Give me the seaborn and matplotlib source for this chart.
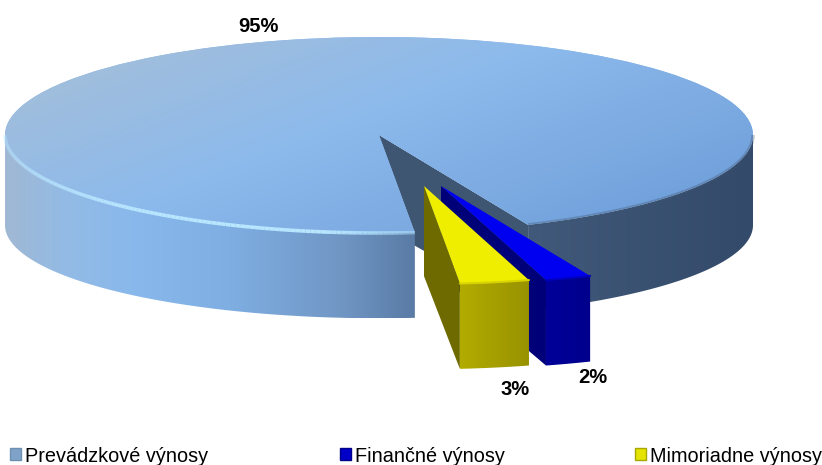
'''Exploded 3D style pie chart of revenue shares'''
import numpy as np
import seaborn as sns
import matplotlib
matplotlib.use('Agg')
import matplotlib.pyplot as plt
from matplotlib.collections import LineCollection
from matplotlib.colors import LinearSegmentedColormap
from matplotlib.patches import Patch, Polygon

categories = ['Prevádzkové výnosy', 'Finančné výnosy', 'Mimoriadne výnosy']
shares = [95, 2, 3]

sns.set_theme(style='white')
plt.rcParams['font.family'] = ['Liberation Sans', 'DejaVu Sans']

top_colors = sns.color_palette(['#8cbaec', '#0000f0', '#f0ee00'])
legend_colors = ['#7fa3c8', '#0000c8', '#e4e400']
legend_edges = ['#6f8fb0', '#00008a', '#a8a800']
legend_x = [0.0122, 0.4136, 0.7725]

# picture layout: pie centre and radii in pixels
W, H = 822, 465
CX, CY, RX, RY = 379, 135, 374, 98
DEPTH = 0.92
BOTTOM_SCALE = 0.95
# how far the two small slices are pulled out, in pixels
BLUE_SHIFT = (62, 51)
YELLOW_SHIFT = (45, 51)

fig = plt.figure(figsize=(W / 100, H / 100), dpi=100)
ax = fig.add_axes([0, 0, 1, 1])

wedges, _ = ax.pie(shares, startangle=275.5, counterclock=False, colors=top_colors,
                   radius=1, wedgeprops={'linewidth': 0, 'edgecolor': 'none'})
ax.set_aspect('auto')


def arc(center, t1, t2, bottom=False):
    '''Points on the top or bottom rim between two angles.'''
    t = np.radians(np.linspace(t1, t2, 120))
    x = center[0] + np.cos(t)
    y = center[1] + np.sin(t)
    if bottom:
        y = center[1] - DEPTH + np.sin(t) * BOTTOM_SCALE
    return np.column_stack([x, y])


def side(center, t1, t2):
    '''Outline of the rim wall between two angles.'''
    return np.vstack([arc(center, t1, t2), arc(center, t2, t1, bottom=True)])


def wall(center, t):
    '''Outline of a straight cut wall from the apex to the rim.'''
    c = np.array(center)
    rim = arc(center, t, t)[0]
    low = arc(center, t, t, bottom=True)[0]
    return np.array([c, rim, low, [c[0], c[1] - DEPTH]])


def gradient(xy, stops, z, extent=None):
    '''Fill a polygon with a horizontal gradient.'''
    if extent is None:
        extent = (xy[:, 0].min(), xy[:, 0].max())
    cmap = LinearSegmentedColormap.from_list('g', stops)
    im = ax.imshow(np.linspace(0, 1, 256)[None, :], cmap=cmap, aspect='auto',
                   extent=(extent[0], extent[1], xy[:, 1].min(), xy[:, 1].max()),
                   zorder=z)
    im.set_clip_path(Polygon(xy, closed=True, transform=ax.transData))


main, blue, yellow = wedges
blue.set_center((BLUE_SHIFT[0] / RX, -BLUE_SHIFT[1] / RY))
yellow.set_center((YELLOW_SHIFT[0] / RX, -YELLOW_SHIFT[1] / RY))

# big slice: cut wall, front rim, gradient top
side_stops = [(0, '#a0b8d4'), (0.08, '#93bbe5'), (0.17, '#89b8ec'), (0.3, '#7faee2'),
              (0.45, '#7096c4'), (0.544, '#5a7ca6'), (0.6, '#4a6688'), (0.7, '#41597a'),
              (1, '#334a6a')]
ax.fill(*wall(main.center, main.theta1).T, color='#3f5672', lw=0, zorder=1)
gradient(side(main.center, main.theta1, 0), side_stops, 2, extent=(-1, 1))
gradient(side(main.center, 180, main.theta2), side_stops, 2, extent=(-1, 1))

main.set_zorder(3)
u, v = np.meshgrid(np.linspace(0, 1, 200), np.linspace(0, 1, 200))
top_map = LinearSegmentedColormap.from_list(
    'top', [(0, '#a9bfd6'), (0.45, '#8cbaec'), (0.75, '#7aa8e0'), (1, '#689ad8')])
top_im = ax.imshow(0.6 * u + 0.4 * v, cmap=top_map, aspect='auto', vmin=0, vmax=1,
                   extent=(-1, 1, -1, 1), zorder=4)
top_im.set_clip_path(main)

# rim highlight on the left, soft shadow on the right
pts = arc(main.center, 180, main.theta2)
segs = np.stack([pts[:-1], pts[1:]], axis=1)
alpha = np.clip(np.linspace(0.4, 1.6, len(segs)), 0, 1) * np.clip(np.linspace(4, 0.5, len(segs)), 0, 1)
rgba = np.column_stack([np.tile([0.72, 0.90, 1.0], (len(segs), 1)), alpha])
ax.add_collection(LineCollection(segs, colors=rgba, linewidths=2.6, zorder=5))
pts = arc(main.center, main.theta1, 0)
ax.plot(pts[:, 0], pts[:, 1], color='#3f5672', lw=2.5, alpha=0.35, zorder=5, solid_capstyle='butt')

# exploded slices, blue behind yellow
ax.fill(*wall(blue.center, blue.theta1).T, color='#000078', lw=0, zorder=6)
gradient(side(blue.center, blue.theta1, blue.theta2), ['#00009a', '#00008c'], 7)
blue.set_zorder(8)
ax.fill(*wall(yellow.center, yellow.theta1).T, color='#6e6a00', lw=0, zorder=9)
gradient(side(yellow.center, yellow.theta1, yellow.theta2), ['#b2ac00', '#989200'], 10)
yellow.set_zorder(11)

# soft bevel where the small slices turn from top to rim
pts = arc(blue.center, blue.theta1, blue.theta2)
ax.plot(pts[:, 0], pts[:, 1], color='#0000c0', lw=1.5, zorder=9)
pts = arc(yellow.center, yellow.theta1, yellow.theta2)
ax.plot(pts[:, 0], pts[:, 1], color='#d8d200', lw=1.5, zorder=12)

ax.set_xlim((0 - CX) / RX, (W - CX) / RX)
ax.set_ylim((CY - H) / RY, CY / RY)
ax.axis('off')

# percentage labels
fig.text(258 / W, 1 - 26 / H, f'{shares[0]}%', fontsize=14.5, fontweight='bold',
         ha='center', va='center', color='black')
fig.text(593 / W, 1 - 377 / H, f'{shares[1]}%', fontsize=14.5, fontweight='bold',
         ha='center', va='center', color='black')
fig.text(515 / W, 1 - 389 / H, f'{shares[2]}%', fontsize=14.5, fontweight='bold',
         ha='center', va='center', color='black')

for name, col, edge, lx in zip(categories, legend_colors, legend_edges, legend_x):
    fig.legend(handles=[Patch(facecolor=col, edgecolor=edge, lw=1)], labels=[name],
               loc='center left', bbox_to_anchor=(lx, 1 - 456 / H), frameon=False,
               borderpad=0, borderaxespad=0, handlelength=0.55, handleheight=0.55,
               handletextpad=0.2, fontsize=14.3, labelcolor='black')

fig.savefig('out.png', dpi=100)
